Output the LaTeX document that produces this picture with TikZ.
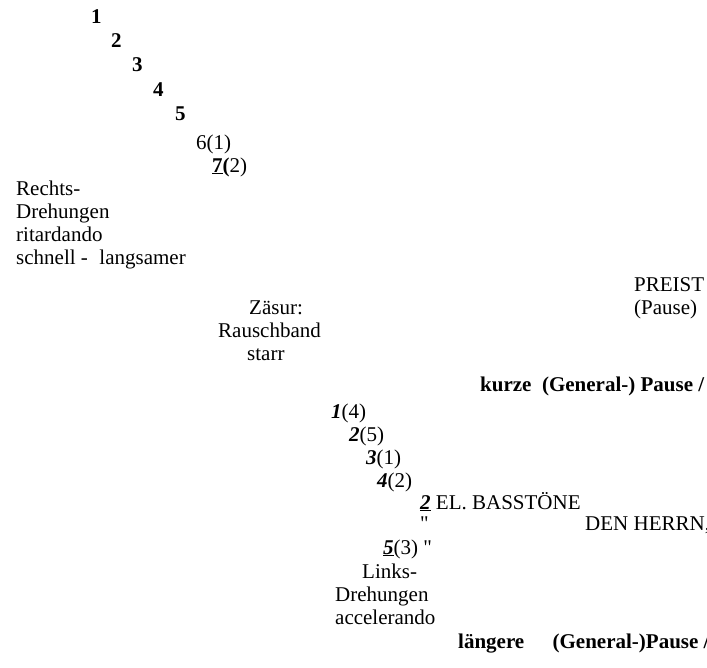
\documentclass[tikz,border=0pt]{standalone}
\usepackage{fontspec}
\setmainfont{Liberation Serif}
\newfontfamily\qfont{Liberation Serif}[Ligatures=TeXOff]
\newcommand{\sq}{{\qfont\symbol{34}}}
\tikzset{
  txt/.style={anchor=base west, inner sep=0pt, font=\fontsize{21}{24}\selectfont},
}
\begin{document}
\begin{tikzpicture}[x=1pt,y=-1pt]
\path[use as bounding box] (0,0) rectangle (707,667);
\clip (0,0) rectangle (707,667);
% first descending sequence
\node[txt] (n1) at (91,23) {\textbf{1}};
\node[txt] (n2) at (111,47) {\textbf{2}};
\node[txt] (n3) at (132,71) {\textbf{3}};
\node[txt] (n4) at (153,96) {\textbf{4}};
\node[txt] (n5) at (175,120) {\textbf{5}};
\node[txt] (n6) at (196,149) {6(1)};
\node[txt] (n7) at (212,172) {\underline{\textbf{7}}\textbf{(}2)};
% right rotations
\node[txt] (r1) at (16,195) {Rechts-};
\node[txt] (r2) at (16,218) {Drehungen};
\node[txt] (r3) at (16,241) {ritardando};
\node[txt] (r4) at (16,264) {schnell -\hspace{0.55em}langsamer};
% preist
\node[txt] (p1) at (634,291) {PREIST};
\node[txt] (p2) at (634,314) {(Pause)};
% caesura
\node[txt] (z1) at (249,314) {Zäsur:};
\node[txt] (z2) at (218,337) {Rauschband};
\node[txt] (z3) at (247,360) {starr};
% short pause
\node[txt] (k) at (480,391) {\textbf{kurze\hspace{0.5em}(General-) Pause /}};
% second descending sequence
\node[txt] (m1) at (331,418) {\textbf{\textit{1}}(4)};
\node[txt] (m2) at (349,441) {\textbf{\textit{2}}(5)};
\node[txt] (m3) at (366,464) {\textbf{\textit{3}}(1)};
\node[txt] (m4) at (377,487) {\textbf{\textit{4}}(2)};
\node[txt] (b1) at (420,509) {\underline{\textbf{\textit{2}}} EL. BASSTÖNE};
\node[txt] (b2) at (420,530) {\sq};
\node[txt] (d) at (585,530) {DEN HERRN,};
\node[txt] (m5) at (383,554) {\underline{\textbf{\textit{5}}}(3) \sq};
% left rotations
\node[txt] (l1) at (362,578) {Links-};
\node[txt] (l2) at (335,601) {Drehungen};
\node[txt] (l3) at (335,624) {accelerando};
% long pause
\node[txt] (lp) at (458,648) {\textbf{längere\hspace{1.35em}(General-)Pause /}};
\end{tikzpicture}
\end{document}
